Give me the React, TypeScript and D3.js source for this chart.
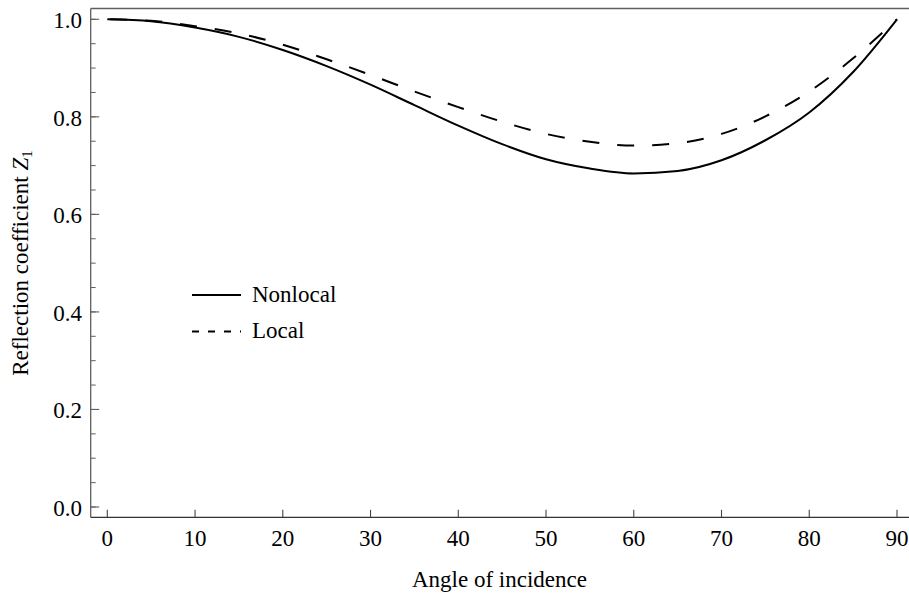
import React, { useEffect, useRef } from "react";
import * as d3 from "d3";

const angles = [0, 5, 10, 15, 20, 25, 30, 35, 40, 45, 50, 55, 60, 65, 70, 75, 80, 85, 90];
const nonlocal = [1.0, 0.996, 0.983, 0.964, 0.937, 0.904, 0.866, 0.824, 0.782, 0.744, 0.713, 0.694, 0.684, 0.689, 0.711, 0.752, 0.809, 0.892, 1.0];
const local = [1.0, 0.997, 0.986, 0.971, 0.948, 0.918, 0.886, 0.852, 0.82, 0.79, 0.765, 0.749, 0.741, 0.746, 0.765, 0.801, 0.852, 0.92, 1.0];
const xTicks = [0, 10, 20, 30, 40, 50, 60, 70, 80, 90];
const yTicks = [0, 0.2, 0.4, 0.6, 0.8, 1.0];
const yMinor = d3.range(0, 1.0001, 0.05);
const seriesNames = ["Nonlocal", "Local"];

const W = 909;
const H = 593;
const FONT = "Liberation Serif";

export default function App() {
  const ref = useRef<SVGSVGElement | null>(null);

  useEffect(() => {
    const svg = d3.select(ref.current);
    svg.selectAll("*").remove();

    const x = d3.scaleLinear().domain([0, 90]).range([107.3, 897]);
    const y = d3.scaleLinear().domain([0, 1]).range([507, 19.3]);

    const left = 90.7;
    const top = 8.5;
    const bottom = 517.3;
    const right = 912;
    const frameColor = "#5f5f5f";

    const g = svg.append("g");
    const txt = (sel: any) =>
      sel.attr("font-family", FONT).attr("font-size", 23).attr("fill", "#000");

    g.append("line").attr("x1", left).attr("x2", left).attr("y1", top).attr("y2", bottom)
      .attr("stroke", frameColor).attr("stroke-width", 1.3);
    g.append("line").attr("x1", left).attr("x2", right).attr("y1", top).attr("y2", top)
      .attr("stroke", frameColor).attr("stroke-width", 1.3);
    g.append("line").attr("x1", left).attr("x2", right).attr("y1", bottom).attr("y2", bottom)
      .attr("stroke", "#333").attr("stroke-width", 1.3);

    g.selectAll(".ymin").data(yMinor).enter().append("line")
      .attr("x1", left).attr("x2", left + 5)
      .attr("y1", (d) => y(d)).attr("y2", (d) => y(d))
      .attr("stroke", frameColor).attr("stroke-width", 1);
    g.selectAll(".ymaj").data(yTicks).enter().append("line")
      .attr("x1", left).attr("x2", left + 8.5)
      .attr("y1", (d) => y(d)).attr("y2", (d) => y(d))
      .attr("stroke", frameColor).attr("stroke-width", 1.1);
    txt(g.selectAll(".ylab").data(yTicks).enter().append("text"))
      .attr("x", 82).attr("y", (d: number) => y(d) + 9)
      .attr("text-anchor", "end")
      .text((d: number) => d3.format(".1f")(d));

    g.selectAll(".xmaj").data(xTicks).enter().append("line")
      .attr("x1", (d) => x(d)).attr("x2", (d) => x(d))
      .attr("y1", bottom).attr("y2", bottom - 7.5)
      .attr("stroke", "#444").attr("stroke-width", 1.1);
    txt(g.selectAll(".xlab").data(xTicks).enter().append("text"))
      .attr("x", (d: number) => x(d)).attr("y", 546)
      .attr("text-anchor", "middle")
      .text((d: number) => String(d));

    txt(g.append("text")).attr("x", 499.5).attr("y", 587)
      .attr("text-anchor", "middle")
      .text("Angle of incidence");

    const yl = txt(g.append("text"))
      .attr("transform", "translate(27.5,263) rotate(-90)")
      .attr("text-anchor", "middle");
    yl.append("tspan").text("Reflection coefficient ");
    yl.append("tspan").attr("font-style", "italic").text("Z");
    yl.append("tspan").attr("font-size", 15).attr("dy", 4).text("1");

    const mk = (vals: number[]) =>
      d3.line<number>()
        .x((_, i) => x(angles[i]))
        .y((d) => y(d))
        .curve(d3.curveMonotoneX)(vals);

    g.append("path").attr("d", mk(local) as string)
      .attr("fill", "none").attr("stroke", "#000").attr("stroke-width", 2)
      .attr("stroke-dasharray", "17,18").attr("stroke-dashoffset", 32);
    g.append("path").attr("d", mk(nonlocal) as string)
      .attr("fill", "none").attr("stroke", "#000").attr("stroke-width", 2);

    g.append("line").attr("x1", 192).attr("x2", 241).attr("y1", 295).attr("y2", 295)
      .attr("stroke", "#000").attr("stroke-width", 2);
    g.append("line").attr("x1", 192).attr("x2", 241).attr("y1", 331.5).attr("y2", 331.5)
      .attr("stroke", "#000").attr("stroke-width", 2).attr("stroke-dasharray", "7,9");
    txt(g.append("text")).attr("x", 252).attr("y", 302).text(seriesNames[0]);
    txt(g.append("text")).attr("x", 252).attr("y", 338).text(seriesNames[1]);
  }, []);

  return (
    <svg
      ref={ref}
      width={W}
      height={H}
      style={{ position: "absolute", left: 0, top: 0, background: "#fff" }}
    />
  );
}
